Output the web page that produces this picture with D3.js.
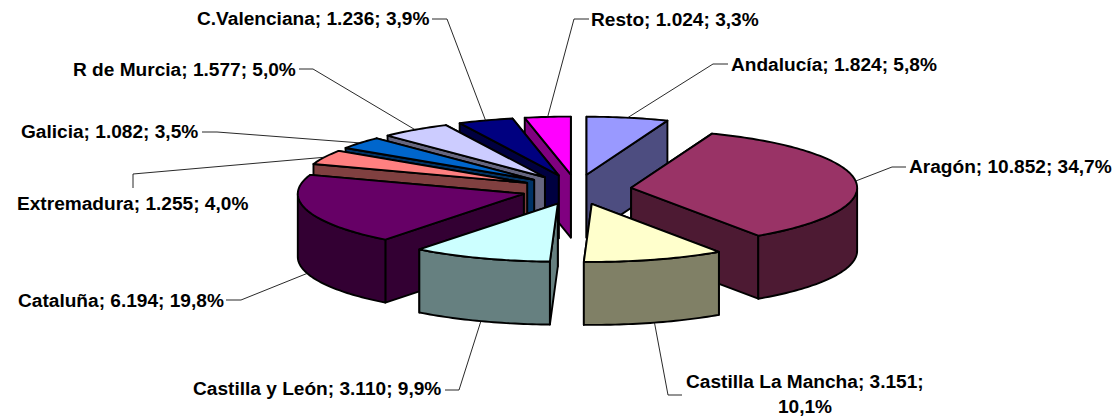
<!DOCTYPE html>
<html><head><meta charset="utf-8">
<style>html,body{margin:0;padding:0;background:#fff;overflow:hidden}
text{font-family:"Liberation Sans",Arial,sans-serif;font-weight:bold;font-size:19.1px;fill:#000}</style>
<script src="https://cdn.jsdelivr.net/npm/d3@7"></script>
</head><body><svg id="c" width="1115" height="416"></svg>
<script>
// Data
const regions = ["Andalucía","Aragón","Castilla La Mancha","Castilla y León","Cataluña","Extremadura","Galicia","R de Murcia","C.Valenciana","Resto"];
const values  = [1824,10852,3151,3110,6194,1255,1082,1577,1236,1024];
const percents = ["5,8%","34,7%","10,1%","9,9%","19,8%","4,0%","3,5%","5,0%","3,9%","3,3%"];
const valueLabels = ["1.824","10.852","3.151","3.110","6.194","1.255","1.082","1.577","1.236","1.024"];
const topColors  = ["#9999FF","#993366","#FFFFCC","#CCFFFF","#660066","#FF8080","#0066CC","#CCCCFF","#000080","#FF00FF"];
const wallColors = ["#4D4D80","#4D1A33","#808066","#668080","#330033","#804040","#003366","#666680","#000040","#800080"];

// Layout
const W=1115,H=416, cx=576.5, cy=189.5, rx=226, ry=58, depth=63, ex=55, ey=15;
const labelLayout = [
 {x:731,y:71, elbow:[713,64], end:[728,64]},
 {x:909,y:173,elbow:[892,167],end:[906,167]},
 {x:686,y:388,elbow:[668,395],end:[682,395]},
 {x:193,y:395,elbow:[459,390],end:[445,390]},
 {x:18, y:307,elbow:[241,300],end:[226,300]},
 {x:17, y:210,elbow:[133,174],end:[133,188]},
 {x:21, y:138,elbow:[217,132],end:[202,132]},
 {x:73, y:76, elbow:[313,69], end:[299,69]},
 {x:197,y:25, elbow:[447,19], end:[432,19]},
 {x:591,y:26, elbow:[574,19], end:[589,19]}
];

const svg=d3.select("#c");
const arcs=d3.pie().sort(null).startAngle(0).endAngle(2*Math.PI)(values);
const ux=d3.scaleLinear().domain([-1,1]).range([-rx,rx]);
const uy=d3.scaleLinear().domain([-1,1]).range([-ry,ry]);
const line=d3.line();

const slices=arcs.map((a,i)=>{
  const mid=(a.startAngle+a.endAngle)/2;
  return {i,a,mid,ax:cx+ex*Math.sin(mid),ay:cy-ey*Math.cos(mid)};
});
const rim=(s,t,dy=0)=>[s.ax+ux(Math.sin(t)),s.ay+uy(-Math.cos(t))+dy];
const sample=(t0,t1)=>{const n=Math.max(2,Math.ceil((t1-t0)/0.02));return d3.range(n+1).map(k=>t0+(t1-t0)*k/n);};

const order=slices.slice().sort((p,q)=>(-Math.cos(p.mid))-(-Math.cos(q.mid)));
const gS=svg.append("g");
order.forEach(s=>{
  const g=gS.append("g").attr("stroke","#000").attr("stroke-width",1.9).attr("stroke-linejoin","round");
  const wall=t=>{const p=rim(s,t);return line([[s.ax,s.ay],p,[p[0],p[1]+depth],[s.ax,s.ay+depth]])+"Z";};
  const walls = s.mid<Math.PI ? [s.a.startAngle,s.a.endAngle] : [s.a.endAngle,s.a.startAngle];
  walls.forEach(t=>g.append("path").attr("d",wall(t)).attr("fill",wallColors[s.i]));
  const t0=Math.max(s.a.startAngle,Math.PI/2), t1=Math.min(s.a.endAngle,3*Math.PI/2);
  if(t1>t0){
    const ts=sample(t0,t1);
    const pts=ts.map(t=>rim(s,t)).concat(ts.slice().reverse().map(t=>rim(s,t,depth)));
    g.append("path").attr("d",line(pts)+"Z").attr("fill",wallColors[s.i]);
  }
  const topPts=[[s.ax,s.ay]].concat(sample(s.a.startAngle,s.a.endAngle).map(t=>rim(s,t)));
  g.append("path").attr("d",line(topPts)+"Z").attr("fill",topColors[s.i]);
});

const gL=svg.append("g");
slices.forEach(s=>{
  const front=Math.cos(s.mid)<0 && Math.abs(Math.sin(s.mid))<0.98;
  const p=rim(s,s.mid,front?depth:0), l=labelLayout[s.i];
  gL.append("path").attr("d",line([p,l.elbow,l.end])).attr("fill","none").attr("stroke","#111").attr("stroke-width",0.9);
});

slices.forEach(s=>{
  const l=labelLayout[s.i];
  if(regions[s.i]==="Castilla La Mancha"){
    svg.append("text").attr("x",l.x).attr("y",l.y).text(`${regions[s.i]}; ${valueLabels[s.i]};`);
    svg.append("text").attr("x",805).attr("y",l.y+25).attr("text-anchor","middle").text(percents[s.i]);
  } else {
    svg.append("text").attr("x",l.x).attr("y",l.y).text(`${regions[s.i]}; ${valueLabels[s.i]}; ${percents[s.i]}`);
  }
});
</script></body></html>
